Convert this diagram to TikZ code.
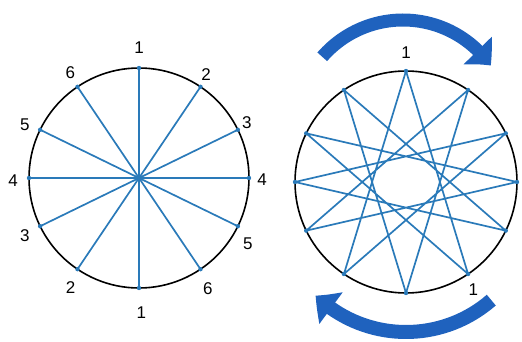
\documentclass[tikz,border=0pt]{standalone}
\usepackage{fontspec}
\setmainfont{Liberation Sans}
\usepackage{tikz}
\usetikzlibrary{arrows.meta,bending,calc}
\definecolor{cLine}{HTML}{2A7AB9}
\definecolor{cArrow}{HTML}{1F62BE}

\begin{document}
\begin{tikzpicture}[x=1pt,y=1pt,font=\fontsize{17}{17}\selectfont,
      rim/.style={draw=black,line width=1.6pt},
      chord/.style={draw=cLine,line width=1.7pt,line join=round},
      pin/.style={fill=cLine},
      num/.style={inner sep=0pt},
      turn/.style={draw=cArrow,line width=13pt,-{Triangle[length=20pt,width=38pt,bend]}}]
    \useasboundingbox (0,0) rectangle (522,341);
    \coordinate (L) at (139,163);
    \coordinate (R) at (406,159);
    \draw[rim] (L) circle[radius=110];
    \draw[rim] (R) circle[radius=111];
    \foreach \a [count=\i] in {90,56,26,0,-26,-56,-90,-124,-154,180,154,124} {
      \coordinate (L\i) at ($(L)+(\a:110)$);
      \coordinate (R\i) at ($(R)+(\a:111)$);
    }
    \foreach \i in {1,...,6} {
      \pgfmathtruncatemacro\j{\i+6}
      \draw[chord] (L\i) -- (L\j);
    }
    \draw[chord] (R1) -- (R6) -- (R11) -- (R4) -- (R9) -- (R2) -- (R7) -- (R12)
      -- (R5) -- (R10) -- (R3) -- (R8) -- cycle;
    \foreach \i in {1,...,12} {
      \fill[pin] (L\i) circle[radius=2.2];
      \fill[pin] (R\i) circle[radius=2.2];
    }
    \foreach \a/\d/\t [count=\i] in {90/130/1,57/123/2,27/121/3,-1/123/4,-31/127/5,-58/130/6,
        -89/135/1,238/129/2,207/128/3,181/126/4,155/126/5,123/126/6}
      \node[num] (n\i) at ($(L)+(\a:\d)$) {\t};
    \node[num] (top1) at ($(R)+(90:129)$) {1};
    \node[num] (low1) at ($(R)+(-58:127)$) {1};
    \draw[turn] ($(R)+(-3,55)+(139:107)$) arc[start angle=139,end angle=35,radius=107];
    \draw[turn,line width=14pt] ($(R)+(0,-20)+(-49:130)$) arc[start angle=-49,end angle=-134,radius=130];
  \end{tikzpicture}
\end{document}
